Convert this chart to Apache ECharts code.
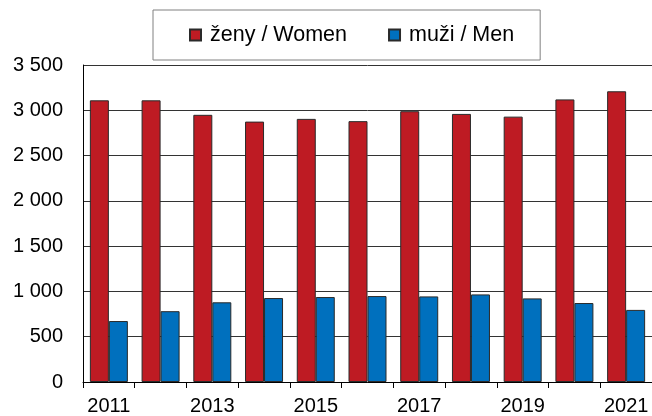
<!DOCTYPE html>
<html>
<head>
<meta charset="utf-8">
<script src="https://cdn.jsdelivr.net/npm/echarts@6/dist/echarts.min.js"></script>
<style>
html,body{margin:0;padding:0;background:#fff;}
#c{width:652px;height:416px;}
</style>
</head>
<body>
<div id="c"></div>
<script>
const years = ['2011','2012','2013','2014','2015','2016','2017','2018','2019','2020','2021'];
const women = [3110, 3110, 2950, 2875, 2905, 2880, 2990, 2960, 2930, 3120, 3210];
const men = [673, 782, 880, 927, 938, 949, 945, 967, 923, 872, 796];
const seriesNames = ['ženy / Women', 'muži / Men'];
const yMin = 0, yMax = 3500, yStep = 500;

const font = '"Liberation Sans", Arial, sans-serif';
const chart = echarts.init(document.getElementById('c'), null, {renderer: 'canvas'});
function fmt(v){
  return String(v).replace(/\B(?=(\d{3})+(?!\d))/g, ' ');
}
chart.setOption({
  animation: false,
  backgroundColor: '#fff',
  textStyle: {fontFamily: font},
  legend: {
    left: 153, top: 10,
    padding: [14, 26, 14, 36],
    borderColor: '#808080', borderWidth: 1,
    itemWidth: 11, itemHeight: 11, itemGap: 41,
    icon: 'rect',
    textStyle: {fontFamily: font, fontSize: 21.5, color: '#000', lineHeight: 20, padding: [0,0,0,4]},
    data: seriesNames
  },
  grid: {left: 83, top: 65, width: 572, height: 321, containLabel: false},
  xAxis: {
    type: 'category',
    data: years,
    axisLine: {show: true, lineStyle: {color: '#000', width: 1}},
    axisTick: {show: true, interval: 0, alignWithLabel: false, length: 6, lineStyle: {color: '#000'}},
    axisLabel: {
      interval: 0, fontFamily: font, fontSize: 20, color: '#000', margin: 14,
      formatter: function (v, i) { return i % 2 === 0 ? v : ''; }
    },
    splitLine: {show: false}
  },
  yAxis: {
    type: 'value',
    min: yMin, max: yMax, interval: yStep,
    axisLine: {show: true, lineStyle: {color: '#000', width: 1}},
    axisTick: {show: false},
    axisLabel: {fontFamily: font, fontSize: 20, color: '#000', margin: 20, formatter: fmt},
    splitLine: {show: true, lineStyle: {color: '#333', width: 1}}
  },
  series: [
    {
      name: seriesNames[0], type: 'bar', data: women,
      barWidth: 19, barGap: '0%',
      itemStyle: {color: '#BE1B23', borderColor: '#2a2a2a', borderWidth: 1}
    },
    {
      name: seriesNames[1], type: 'bar', data: men,
      barWidth: 19, barGap: '0%',
      itemStyle: {color: '#0070BE', borderColor: '#2a2a2a', borderWidth: 1}
    }
  ]
});
</script>
</body>
</html>
